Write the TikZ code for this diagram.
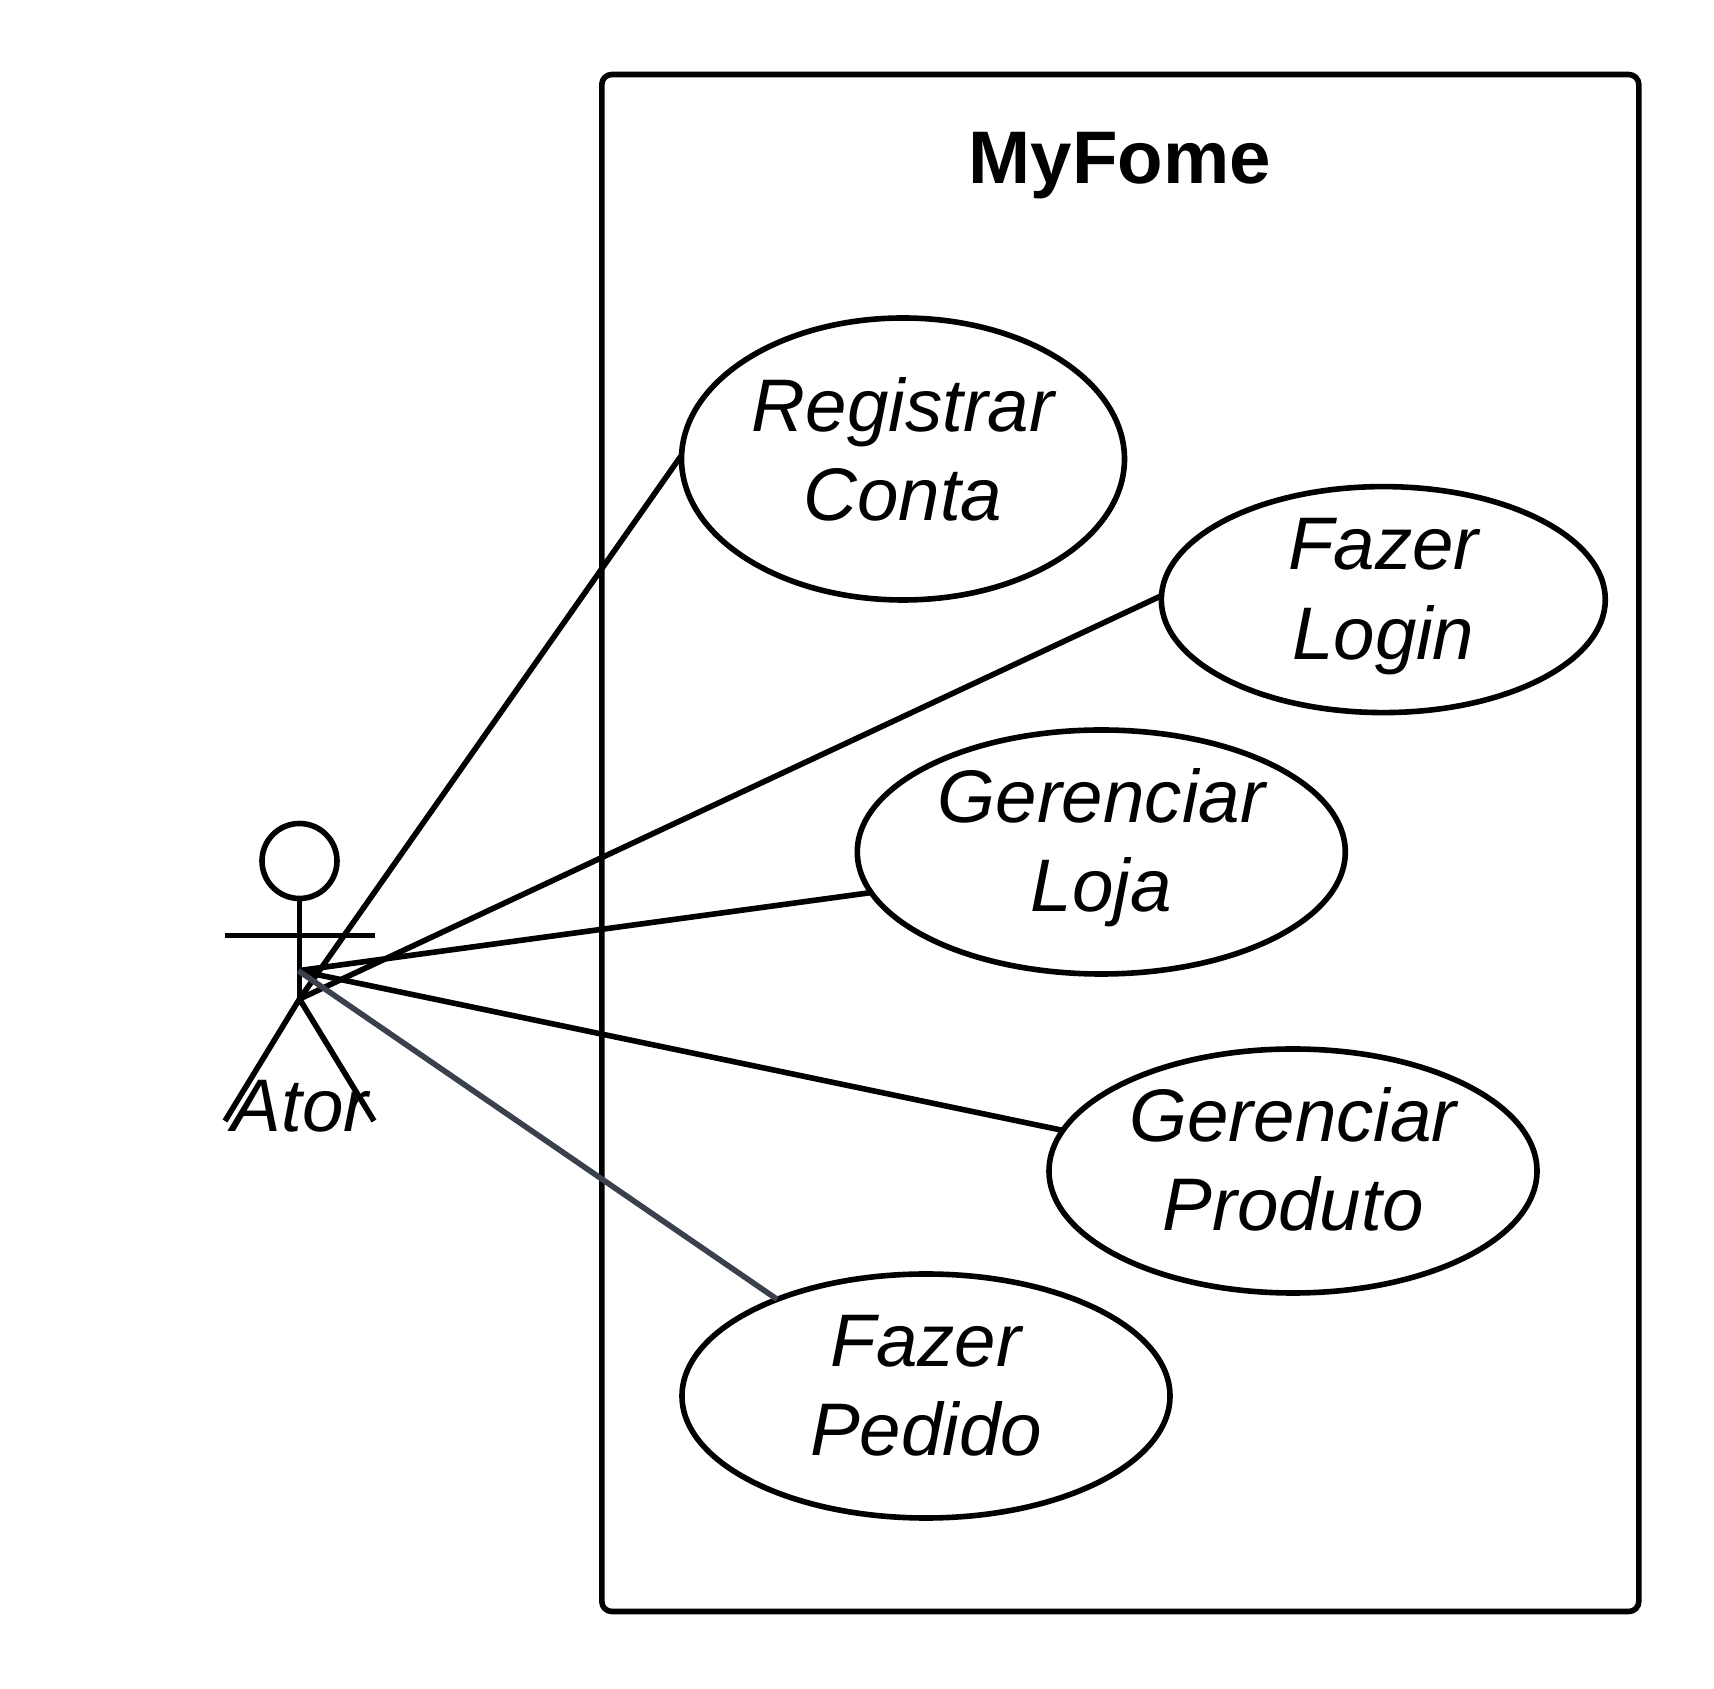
\documentclass[tikz,border=0pt]{standalone}
\usepackage{fontspec}
\setmainfont{Liberation Sans}
\usetikzlibrary{shapes.geometric}

\begin{document}
\begin{tikzpicture}
\tikzset{trait/.style={line width=0.056cm, black}}
\tikzset{casuso/.style={draw, ellipse, line width=0.056cm, inner sep=0pt, outer sep=0pt, align=center, text height=1.2cm, text depth=0cm, font=\fontsize{21.2}{25.6}\selectfont\itshape}}
\useasboundingbox (0, 0) rectangle (17.14, 16.88);
\node[draw, line width=0.056cm, rounded corners=0.1cm, inner sep=0pt, outer sep=0pt, minimum width=10.37cm, minimum height=15.37cm] (sistema) at (11.203, 8.45) {};
\node[anchor=base, font=\fontsize{21.2}{25.6}\selectfont\bfseries] (titre) at (11.2, 15.04) {MyFome};
\node[casuso, minimum width=4.43cm, minimum height=2.82cm, text height=1.24cm] (registrar) at (9.03, 12.29) {Registrar\\Conta};
\node[casuso, minimum width=4.44cm, minimum height=2.26cm] (login) at (13.833, 10.884) {Fazer\\Login};
\node[casuso, minimum width=4.88cm, minimum height=2.44cm] (loja) at (11.013, 8.36) {Gerenciar\\Loja};
\node[casuso, minimum width=4.88cm, minimum height=2.44cm] (produto) at (12.93, 5.17) {Gerenciar\\Produto};
\node[casuso, minimum width=4.88cm, minimum height=2.44cm] (pedido) at (9.26, 2.92) {Fazer\\Pedido};
\node[draw, circle, line width=0.056cm, inner sep=0pt, outer sep=0pt, minimum size=0.75cm] (tete) at (2.995, 8.27) {};
\coordinate (torse) at (2.983, 7.173);
\coordinate (hanche) at (2.995, 6.89);
\coordinate (mainG) at (2.245, 7.523);
\coordinate (mainD) at (3.745, 7.523);
\coordinate (piedG) at (2.25, 5.67);
\coordinate (piedD) at (3.74, 5.67);
\draw[trait] (tete.south) -- (hanche);
\draw[trait] (mainG) -- (mainD);
\draw[trait] (piedG) -- (hanche) -- (piedD);
\node[anchor=base, font=\fontsize{21.2}{25.6}\selectfont\itshape] (ator) at (3.0, 5.56) {Ator};
\draw[trait] (hanche) -- (registrar.179);
\draw[trait] (hanche) -- (login.179.5);
\draw[trait] (torse) -- (loja.190);
\draw[trait] (torse) -- (produto.170);
\draw[trait, color={rgb,255:red,58;green,64;blue,76}] (torse) -- (pedido.147);
\end{tikzpicture}
\end{document}
